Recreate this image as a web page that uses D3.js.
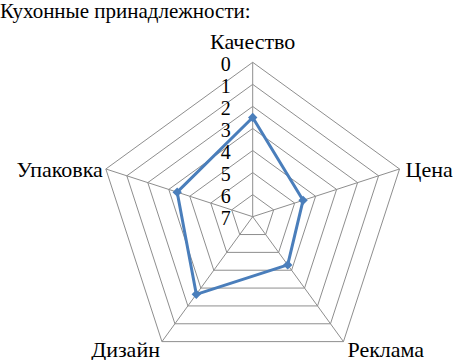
<!DOCTYPE html>
<html>
<head>
<meta charset="utf-8">
<script src="https://cdn.jsdelivr.net/npm/d3@7"></script>
<style>
  html, body { margin: 0; padding: 0; background: #fff; }
  svg { display: block; }
  svg text { font-family: "Liberation Serif", "Times New Roman", "DejaVu Serif", serif; }
</style>
</head>
<body>
<svg id="chart" width="454" height="360"></svg>
<script>
// Kitchenware ratings on five criteria (reversed scale: 0 outside, 7 at centre)
const title = "Кухонные принадлежности:";
const categories = ["Качество", "Цена", "Реклама", "Дизайн", "Упаковка"];
const values = [2.5, 4.6, 4.3, 2.65, 3.4];
const ticks = [0, 1, 2, 3, 4, 5, 6, 7];

const svg = d3.select("#chart");
const cx = 252.7, cy = 216.7, R = 154.4;

// radius scale: value 0 sits on the outer ring, 7 at the centre
const r = d3.scaleLinear().domain([0, 7]).range([R, 0]);
const angle = d3.scaleLinear().domain([0, categories.length]).range([0, 2 * Math.PI]);

const pt = (i, rad) => [cx + rad * Math.sin(angle(i)), cy - rad * Math.cos(angle(i))];

svg.append("text")
  .attr("x", 0).attr("y", 18)
  .attr("font-size", 21)
  .text(title);

const grid = svg.append("g").attr("fill", "none").attr("stroke", "#8e8e8e").attr("stroke-width", 1);

// concentric pentagons
ticks.slice(0, -1).forEach(t => {
  const pts = categories.map((_, i) => pt(i, r(t)));
  grid.append("path").attr("d", d3.line()(pts) + "Z");
});
// spokes
categories.forEach((_, i) => {
  const [x, y] = pt(i, R);
  grid.append("line").attr("x1", cx).attr("y1", cy).attr("x2", x).attr("y2", y);
});

// tick labels along the first spoke
svg.append("g").selectAll("text").data(ticks).join("text")
  .attr("x", cx - 27)
  .attr("y", d => cy - r(d) + 1.5)
  .attr("text-anchor", "middle")
  .attr("dominant-baseline", "central")
  .attr("font-size", 20)
  .text(d => d);

// category labels
const labelPos = [
  { dx: 0, dy: -13, anchor: "middle" },
  { dx: 6, dy: 8, anchor: "start" },
  { dx: 4, dy: 15, anchor: "start" },
  { dx: -2, dy: 15, anchor: "end" },
  { dx: -3, dy: 8, anchor: "end" }
];
svg.append("g").selectAll("text").data(categories).join("text")
  .attr("x", (d, i) => pt(i, R)[0] + labelPos[i].dx)
  .attr("y", (d, i) => pt(i, R)[1] + labelPos[i].dy)
  .attr("text-anchor", (d, i) => labelPos[i].anchor)
  .attr("font-size", 22)
  .text(d => d);

// series line
const seriesPts = values.map((v, i) => pt(i, r(v)));
svg.append("path")
  .attr("d", d3.line()(seriesPts) + "Z")
  .attr("fill", "none")
  .attr("stroke", "#4a7ebb")
  .attr("stroke-width", 3)
  .attr("stroke-linejoin", "round");

svg.append("g").selectAll("path").data(seriesPts).join("path")
  .attr("d", d3.symbol(d3.symbolDiamond2 || d3.symbolDiamond, 56))
  .attr("transform", d => `translate(${d[0]},${d[1]})`)
  .attr("fill", "#4a7ebb");
</script>
</body>
</html>
